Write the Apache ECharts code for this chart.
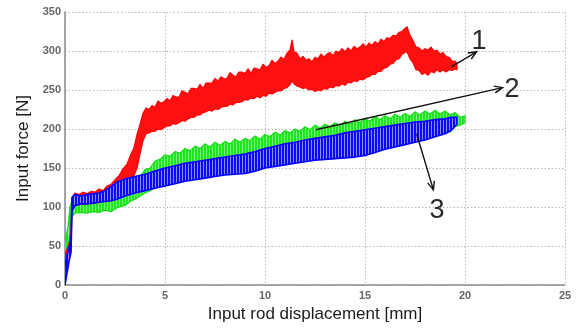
<!DOCTYPE html>
<html>
<head>
<meta charset="utf-8">
<script src="https://cdn.jsdelivr.net/npm/echarts@6/dist/echarts.min.js"></script>
<style>html,body{margin:0;padding:0;background:#fff}#c{width:579px;height:330px}</style>
</head>
<body>
<div id="c"></div>
<script>
// [displacement mm, lower force N, upper force N]
const curve1 = [[0,28,40],[0.2,38,52],[0.3,44,70],[0.35,96,112],[0.5,103,118],[0.7,103,116],[0.9,104,119],[1.1,104,117],[1.3,105,120],[1.5,105,119],[1.7,107,123],[1.9,108,121],[2.1,110,127],[2.3,112,129],[2.5,115,135],[2.7,119,140],[2.9,123,149],[3.1,128,155],[3.3,133,168],[3.45,140,176],[3.6,150,193],[3.75,168,206],[3.9,185,220],[4.05,194,227],[4.2,195,225],[4.35,197,230],[4.5,197,228],[4.65,200,236],[4.8,199,233],[4.95,202,235],[5.1,204,239],[5.25,204,236],[5.4,207,243],[5.55,206,241],[5.7,208,241],[5.85,211,249],[6.0,210,247],[6.15,213,245],[6.3,215,252],[6.45,215,252],[6.6,218,251],[6.75,218,257],[6.9,221,252],[7.05,222,259],[7.2,224,259],[7.35,223,259],[7.5,226,265],[7.65,225,261],[7.8,228,267],[7.95,229,264],[8.1,229,265],[8.25,232,272],[8.4,231,269],[8.55,234,267],[8.7,234,273],[8.85,235,273],[9.0,238,271],[9.15,237,277],[9.3,240,271],[9.45,239,278],[9.6,242,277],[9.75,240,276],[9.9,243,283],[10.05,242,279],[10.2,246,281],[10.35,245,288],[10.5,247,284],[10.65,249,287],[10.8,249,292],[10.95,252,289],[11.1,253,297],[11.25,257,301],[11.35,262,314],[11.45,258,299],[11.6,255,297],[11.75,254,290],[11.9,252,293],[12.05,253,288],[12.2,250,290],[12.35,251,286],[12.5,248,292],[12.65,250,290],[12.8,249,296],[12.95,252,292],[13.1,251,296],[13.25,254,298],[13.4,253,294],[13.55,256,300],[13.7,255,298],[13.85,258,303],[14.0,256,299],[14.15,260,304],[14.3,259,300],[14.45,262,306],[14.6,261,303],[14.75,264,305],[14.9,263,309],[15.05,266,305],[15.2,267,310],[15.35,270,307],[15.5,270,312],[15.65,274,309],[15.8,274,315],[15.95,278,312],[16.1,279,317],[16.25,283,316],[16.4,284,320],[16.55,289,319],[16.7,290,324],[16.85,296,325],[17.0,298,329],[17.1,299,331],[17.25,290,320],[17.4,285,313],[17.55,276,305],[17.7,275,304],[17.85,270,300],[18.0,272,303],[18.15,269,301],[18.3,274,305],[18.45,272,300],[18.6,276,301],[18.75,273,296],[18.9,276,298],[19.05,273,293],[19.2,276,292],[19.35,275,287],[19.5,277,287],[19.6,276,284]];
const curve2 = [[0,25,55],[0.15,45,75],[0.25,70,100],[0.35,88,108],[0.5,92,108],[0.8,93,106],[1.1,92,109],[1.4,94,107],[1.7,93,111],[2.0,96,109],[2.3,94,114],[2.6,99,115],[3.0,102,125],[3.25,107,128],[3.5,110,136],[3.75,114,139],[4.0,118,148],[4.25,121,150],[4.5,125,159],[4.75,128,161],[5.0,132,167],[5.25,135,165],[5.5,138,171],[5.75,140,169],[6.0,142,175],[6.25,144,172],[6.5,145,178],[6.75,147,175],[7.0,148,181],[7.25,149,177],[7.5,150,183],[7.75,151,179],[8.0,152,184],[8.25,153,181],[8.5,154,187],[8.75,155,183],[9.0,156,188],[9.25,157,185],[9.5,158,191],[9.75,159,187],[10.0,160,193],[10.25,161,190],[10.5,162,196],[10.75,163,192],[11.0,164,198],[11.25,165,195],[11.5,166,200],[11.75,167,197],[12.0,168,203],[12.25,169,199],[12.5,170,205],[12.75,171,201],[13.0,172,206],[13.25,173,203],[13.5,175,208],[13.75,176,204],[14.0,177,210],[14.25,178,206],[14.5,179,212],[14.75,180,208],[15.0,182,213],[15.25,183,210],[15.5,184,216],[15.75,185,212],[16.0,186,217],[16.25,187,213],[16.5,188,219],[16.75,189,215],[17.0,190,220],[17.25,191,216],[17.5,193,222],[17.75,194,218],[18.0,195,223],[18.25,196,219],[18.5,197,224],[18.75,198,219],[19.0,199,223],[19.25,196,218],[19.5,203,221],[19.75,205,215],[20.0,208,217]];
const curve3 = [[0,0,25],[0.1,15,38],[0.2,30,48],[0.3,42,60],[0.35,95,112],[0.5,102,116],[0.8,104,114],[1.1,104,116],[1.4,105,117],[1.7,106,118],[2.0,107,121],[2.3,108,126],[2.6,110,132],[3.0,114,136],[3.5,118,139],[4.0,121,142],[4.5,124,146],[5.0,127,150],[5.5,130,153],[6.0,133,156],[6.5,135,158],[7.0,137,160],[7.5,139,162],[8.0,141,164],[8.5,142,166],[9.0,143,168],[9.5,146,171],[10.0,150,175],[10.5,152,178],[11.0,154,181],[11.5,156,183],[12.0,158,186],[12.5,160,188],[13.0,161,190],[13.5,162,192],[14.0,163,195],[14.5,164,197],[15.0,166,199],[15.5,170,201],[16.0,174,203],[16.5,177,205],[17.0,180,207],[17.5,183,209],[18.0,186,210],[18.5,190,212],[19.0,194,213],[19.3,198,215],[19.6,206,215]];
// annotation arrows: [fromX, fromY, toX, toY]
const arrows = [[19.33,280,20.58,299],[12.55,199,21.88,253],[17.58,194,18.42,122]];
// annotation labels: [text, x, y]
const labels = [['1',20.7,312],['2',22.35,251],['3',18.6,96]];
const xTicks = {min:0, max:25, interval:5};
const yTicks = {min:0, max:350, interval:50};

function stripes(c1, c2){
  const cv = document.createElement('canvas');
  cv.width = 3; cv.height = 4;
  const g = cv.getContext('2d');
  g.fillStyle = c1; g.fillRect(0,0,2,4);
  g.fillStyle = c2; g.fillRect(2,0,1,4);
  return {image:cv, repeat:'repeat'};
}

function band(name, pts, fill, stroke, lw){
  return {
    type:'custom', name, clip:true, data:[[0,0]], encode:{x:0,y:1},
    renderItem:(params, api)=>{
      const up = pts.map(p=>api.coord([p[0],p[2]]));
      const lo = pts.slice().reverse().map(p=>api.coord([p[0],p[1]]));
      return {type:'polygon', shape:{points:up.concat(lo)}, style:{fill, stroke, lineWidth:lw, lineJoin:'round'}};
    }
  };
}

const chart = echarts.init(document.getElementById('c'), null, {renderer:'canvas'});
const gridStyle = {show:true, lineStyle:{color:'#b8b8b8', type:[1.5,2], width:1}};
chart.setOption({
  animation:false,
  backgroundColor:'#fff',
  grid:{left:65, right:14, top:12, bottom:45, containLabel:false},
  xAxis:{type:'value', min:xTicks.min, max:xTicks.max, interval:xTicks.interval,
    name:'Input rod displacement [mm]', nameLocation:'middle', nameGap:20,
    nameTextStyle:{fontFamily:'Liberation Sans, Arial', fontSize:17, color:'#1a1a1a'},
    axisLine:{show:true, onZero:false, lineStyle:{color:'#8a8a8a', width:1.5}},
    axisTick:{show:false},
    axisLabel:{margin:5, fontFamily:'Liberation Sans, Arial', fontSize:11, fontWeight:'bold', color:'#666'},
    splitLine:gridStyle},
  yAxis:{type:'value', min:yTicks.min, max:yTicks.max, interval:yTicks.interval,
    name:'Input force [N]', nameLocation:'middle', nameGap:33, nameRotate:90,
    nameTextStyle:{fontFamily:'Liberation Sans, Arial', fontSize:17, color:'#1a1a1a'},
    axisLine:{show:true, onZero:false, lineStyle:{color:'#8a8a8a', width:1.5}},
    axisTick:{show:false},
    axisLabel:{margin:4, fontFamily:'Liberation Sans, Arial', fontSize:11, fontWeight:'bold', color:'#666'},
    splitLine:gridStyle},
  series:[
    band('2', curve2, stripes('#1ee61e','#7cf57c'), '#11dd11', 1.2),
    band('1', curve1, '#ff1010', '#ff0000', 1.2),
    band('3', curve3, stripes('#0a0af5','#8c8cff'), '#0000ff', 1.6),
    {type:'custom', name:'arrows', clip:false, data:arrows, encode:{x:[0,2], y:[1,3]},
      renderItem:(params, api)=>{
        const a = api.coord([api.value(0), api.value(1)]);
        const b = api.coord([api.value(2), api.value(3)]);
        const ang = Math.atan2(b[1]-a[1], b[0]-a[0]);
        const L = 9, w = 0.4;
        const h1 = [b[0]-L*Math.cos(ang-w), b[1]-L*Math.sin(ang-w)];
        const h2 = [b[0]-L*Math.cos(ang+w), b[1]-L*Math.sin(ang+w)];
        const st = {stroke:'#111', lineWidth:1.4, fill:null};
        return {type:'group', children:[
          {type:'line', shape:{x1:a[0],y1:a[1],x2:b[0],y2:b[1]}, style:st},
          {type:'polyline', shape:{points:[h1,b,h2]}, style:st}
        ]};
      }},
    {type:'custom', name:'labels', clip:false, data:labels.map(l=>[l[1],l[2]]), encode:{x:0,y:1},
      renderItem:(params, api)=>{
        const p = api.coord([api.value(0), api.value(1)]);
        return {type:'text', x:p[0], y:p[1], style:{text:String(labels[params.dataIndex][0]), fontFamily:'Liberation Sans, Arial', fontSize:27, fill:'#2a2a2a', align:'center', verticalAlign:'middle'}};
      }}
  ]
});
</script>
</body>
</html>
